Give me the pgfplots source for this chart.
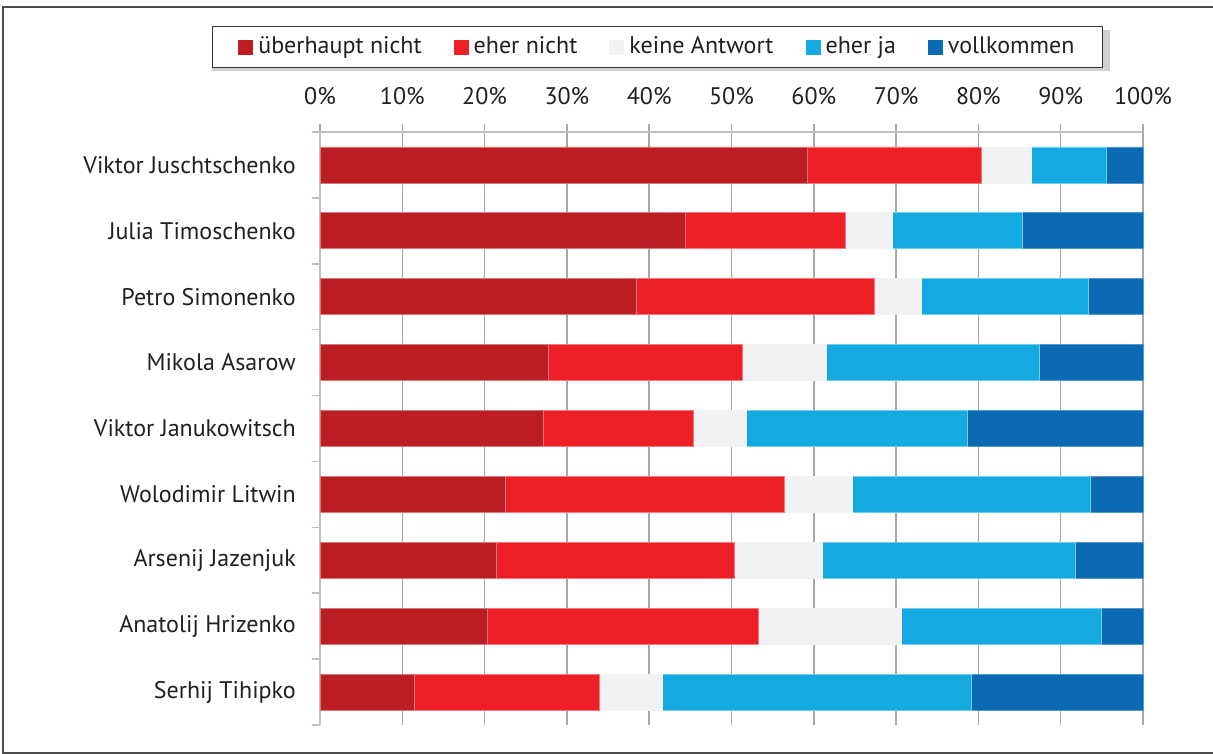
\documentclass[border=0pt]{standalone}
\usepackage{pgfplots}
\pgfplotsset{compat=1.18}
\usepackage{fontspec}
\setmainfont{PT Sans}
\usetikzlibrary{backgrounds}
\definecolor{cA}{HTML}{BC1E24}
\definecolor{cB}{HTML}{EE1F26}
\definecolor{cC}{HTML}{F1F2F4}
\definecolor{cD}{HTML}{14AAE1}
\definecolor{cE}{HTML}{0A6AB4}
\definecolor{txt}{HTML}{231F20}
\definecolor{gridc}{HTML}{A8A8A8}
\definecolor{axc}{HTML}{C0C0C0}
\begin{document}
\fontsize{24pt}{28pt}\selectfont
\begin{tikzpicture}[x=1pt,y=1pt]
\useasboundingbox (0,0) rectangle (1213,754);
\begin{axis}[
  scale only axis, width=823pt, height=593pt,
  at={(320pt,29pt)}, anchor=south west,
  xbar stacked, bar width=36pt,
  xmin=0, xmax=100, ymin=0.5, ymax=9.5,
  axis x line*=top, axis y line*=left,
  axis line style={axc, line width=2pt, -},
  tick align=outside, major tick length=8pt,
  xtick={0,10,...,100},
  xticklabels={0\%,10\%,20\%,30\%,40\%,50\%,60\%,70\%,80\%,90\%,100\%},
  xtick style={gridc, line width=1.5pt},
  xmajorgrids=true,
  major grid style={gridc, line width=1.5pt},
  xticklabel style={font=\fontsize{24pt}{28pt}\selectfont, text=txt, anchor=base, yshift=20pt},
  ytick={0.5,1.5,...,9.5}, yticklabels={},
  ytick style={axc, line width=1.5pt},
  extra y ticks={1,2,...,9},
  extra y tick labels={Serhij Tihipko,Anatolij Hrizenko,Arsenij Jazenjuk,Wolodimir Litwin,Viktor Janukowitsch,Mikola Asarow,Petro Simonenko,Julia Timoschenko,Viktor Juschtschenko},
  extra y tick style={tick style={draw=none}, yticklabel style={font=\fontsize{24pt}{28pt}\selectfont, text=txt, xshift=-8pt}},
  legend columns=5,
  legend image code/.code={\fill[#1,draw=none] (0pt,-7.5pt) rectangle (15pt,7.5pt);},
  legend style={at={(0.41,1.143)}, anchor=center, draw=black!80, line width=1.2pt, fill=white,
    font=\fontsize{24pt}{28pt}\selectfont, text=txt,
    inner xsep=26pt, inner ysep=8pt,
    /tikz/every odd column/.append style={column sep=3pt},
    /tikz/every even column/.append style={column sep=30pt}},
  legend cell align=left,
  clip=false,
]
\addplot[fill=cA, draw=cA!60!white, line width=0.75pt] coordinates {(59.2,9) (44.4,8) (38.4,7) (27.7,6) (27.1,5) (22.5,4) (21.4,3) (20.3,2) (11.5,1)};
\addplot[fill=cB, draw=cB!60!white, line width=0.75pt] coordinates {(21.1,9) (19.4,8) (28.9,7) (23.6,6) (18.3,5) (33.9,4) (29.0,3) (33.0,2) (22.5,1)};
\addplot[fill=cC, draw=cC, line width=0.75pt] coordinates {(6.1,9) (5.7,8) (5.8,7) (10.2,6) (6.4,5) (8.3,4) (10.6,3) (17.4,2) (7.6,1)};
\addplot[fill=cD, draw=cD!60!white, line width=0.75pt] coordinates {(9.2,9) (15.9,8) (20.3,7) (25.9,6) (26.9,5) (28.9,4) (30.8,3) (24.2,2) (37.6,1)};
\addplot[fill=cE, draw=cE!70!white, line width=0.75pt] coordinates {(4.4,9) (14.6,8) (6.6,7) (12.6,6) (21.3,5) (6.4,4) (8.2,3) (5.1,2) (20.8,1)};
\legend{überhaupt nicht,eher nicht,keine Antwort,eher ja,vollkommen}
\end{axis}
\begin{scope}[on background layer]
\fill[black!35] (212,684) rectangle (1109,724);
\fill[black!18] (212,683) rectangle (1110,724);
\end{scope}
\draw[black!70, line width=2pt] (1213,747) -- (3,747) -- (3,1) -- (1213,1);
\end{tikzpicture}
\end{document}
